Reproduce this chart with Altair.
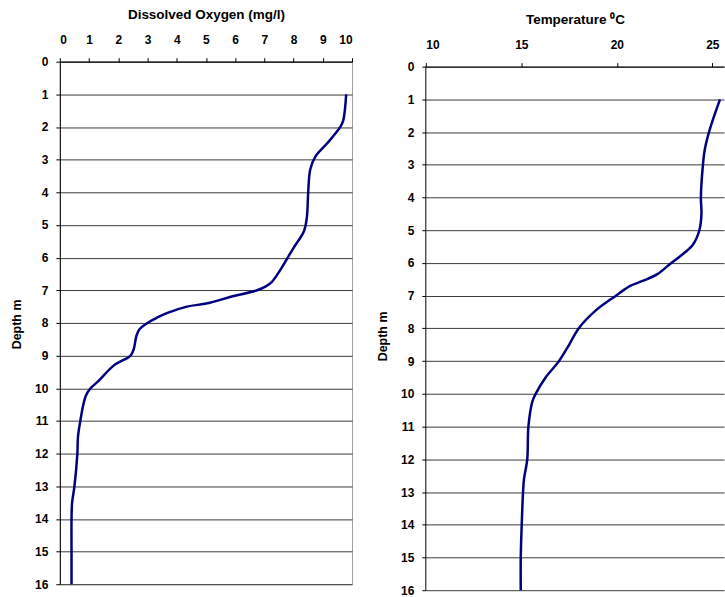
import altair as alt
import pandas as pd

# ---- data ----
do_depth = [1.0, 1.8, 2.0, 2.5, 2.9, 3.3, 4.0, 4.8, 5.2, 5.7, 6.0, 6.4, 6.75, 6.88, 7.0, 7.2,
            7.4, 7.5, 7.7, 7.85, 8.0, 8.2, 8.4, 8.8, 9.0, 9.3, 9.8, 10.0, 10.25, 11.0, 11.5,
            12.0, 13.0, 13.5, 14.0, 15.0, 16.0]
do_value = [9.8, 9.7, 9.6, 9.15, 8.75, 8.57, 8.5, 8.45, 8.35, 8.0, 7.8, 7.53, 7.25, 7.05,
            6.75, 5.85, 5.05, 4.35, 3.66, 3.3, 3.0, 2.72, 2.62, 2.53, 2.42, 1.85, 1.3, 1.05,
            0.88, 0.7, 0.62, 0.6, 0.5, 0.42, 0.4, 0.4, 0.4]

temp_depth = [1.0, 1.95, 2.55, 3.05, 4.0, 4.5, 5.0, 5.45, 5.8, 6.0, 6.35, 6.55, 6.7, 7.0,
              7.45, 8.0, 8.5, 9.0, 9.5, 10.0, 10.25, 11.0, 12.0, 12.6, 13.0, 14.0, 15.0, 16.0]
temp_value = [25.4, 24.85, 24.6, 24.5, 24.4, 24.43, 24.32, 23.97, 23.3, 22.85, 22.1, 21.35,
              20.7, 19.95, 18.9, 18.0, 17.5, 16.97, 16.27, 15.75, 15.57, 15.37, 15.31,
              15.14, 15.09, 15.02, 14.97, 14.97]

depth_ticks = list(range(0, 17))
do_ticks = list(range(0, 11))
temp_ticks = [10, 15, 20, 25]

FONT = "Liberation Sans"
LINE = "#000080"
GRID = "#3c3c3c"

do_df = pd.DataFrame({"depth": do_depth, "value": do_value})
temp_df = pd.DataFrame({"depth": temp_depth, "value": temp_value})
edge_df = pd.DataFrame({"value": [temp_ticks[0]], "depth": [depth_ticks[0]],
                        "depth2": [depth_ticks[-1]]})

# ---- left panel: dissolved oxygen ----
left = alt.Chart(do_df).mark_line(
    color=LINE, strokeWidth=2.5, interpolate="catmull-rom"
).encode(
    x=alt.X("value:Q",
            scale=alt.Scale(domain=[0, 10], nice=False, zero=False),
            axis=alt.Axis(orient="top", values=do_ticks, grid=False, labelPadding=11,
                          labelOverlap=False,
                          title="Dissolved Oxygen (mg/l)", titleY=-43,
                          titleBaseline="alphabetic")),
    y=alt.Y("depth:Q",
            scale=alt.Scale(domain=[0, 16], reverse=True, nice=False, zero=False),
            axis=alt.Axis(values=depth_ticks, grid=True, gridColor=GRID,
                          labelOverlap=False,
                          title="Depth m", titleX=-43, titleY=263,
                          titleBaseline="middle")),
    order=alt.Order("depth:Q"),
).properties(width=293, height=524,
             view=alt.ViewBackground(stroke="#a0a0a0", strokeWidth=1))

# ---- right panel: temperature ----
tx_scale = alt.Scale(domain=[10, 25.61], nice=False, zero=False)
ty_scale = alt.Scale(domain=[-0.152, 16], reverse=True, nice=False, zero=False)
tx_axis = alt.Axis(orient="top", values=temp_ticks, grid=False, labelPadding=11,
                   labelOverlap=False, offset=-5, title="Temperature \u2070C",
                   titleY=-43, titleBaseline="alphabetic")
ty_axis = alt.Axis(values=depth_ticks, grid=True, gridColor=GRID, domain=False,
                   labelOverlap=False, title="Depth m", titleX=-43, titleY=275,
                   titleBaseline="middle")

temp_line = alt.Chart(temp_df).mark_line(
    color=LINE, strokeWidth=2.5, interpolate="catmull-rom"
).encode(
    x=alt.X("value:Q", scale=tx_scale, axis=tx_axis),
    y=alt.Y("depth:Q", scale=ty_scale, axis=ty_axis),
    order=alt.Order("depth:Q"),
)

edge = alt.Chart(edge_df).mark_rule(color="black", strokeWidth=1).encode(
    x=alt.X("value:Q", scale=tx_scale, axis=tx_axis),
    y=alt.Y("depth:Q", scale=ty_scale, axis=ty_axis),
    y2="depth2:Q",
)

right = alt.layer(temp_line, edge).properties(width=299, height=530)

chart = alt.hconcat(left, right, spacing=74, bounds="flush").properties(
    padding={"left": 10, "top": 6, "right": 0, "bottom": 0},
    background="white",
).configure_view(
    strokeWidth=0
).configure_axis(
    labelFont=FONT, labelFontSize=12, labelFontWeight="bold", labelColor="black",
    titleFont=FONT, titleFontSize=12.5, titleFontWeight="bold", titleColor="black",
    domainColor="black", domainWidth=1, tickColor="black", tickSize=4, tickWidth=1,
    labelPadding=8, gridWidth=1, gridOpacity=1, labelOverlap=False,
).configure_axisTop(
    titleFontSize=13.5
)

chart.save("out.html", embed_options={"renderer": "svg", "actions": False})
